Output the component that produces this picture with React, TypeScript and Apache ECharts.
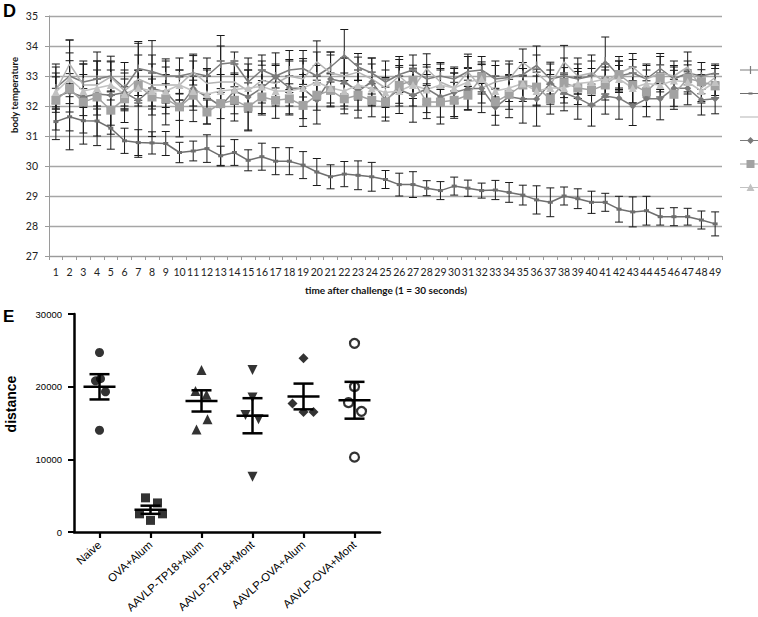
import React, { useEffect, useRef } from "react";
import * as echarts from "echarts";

// ---------- Panel D data ----------
const timeLabels = ["1","2","3","4","5","6","7","8","9","10","11","12","13","14","15","16","17","18","19","20","21","22","23","24","25","26","27","28","29","30","31","32","33","34","35","36","37","38","39","40","41","42","43","44","45","46","47","48","49"];

const s1Mean = [32.6,33.0,32.8,32.9,33.0,32.6,33.25,33.15,33.0,33.0,33.1,33.0,33.4,33.45,32.8,33.2,33.0,33.2,33.25,33.0,33.3,33.7,33.3,33.1,32.8,33.05,33.2,32.9,33.0,32.9,33.15,33.2,32.9,32.95,33.05,33.35,32.9,33.0,32.9,33.0,33.5,33.0,33.1,32.9,33.25,32.9,33.1,33.0,33.1];
const s1Err = [0.7,1.2,0.6,0.6,0.5,0.6,0.9,0.55,0.5,0.6,0.4,0.6,0.95,0.35,0.8,0.5,0.4,0.65,0.6,0.8,0.5,0.85,0.45,0.5,0.7,0.6,0.5,0.4,0.45,0.4,0.5,0.45,0.6,0.55,0.4,0.65,0.5,0.6,0.5,0.5,0.8,0.5,0.45,0.45,0.5,0.45,0.4,0.45,0.3];

const s2Mean = [31.48,31.64,31.51,31.5,31.26,30.84,30.78,30.77,30.75,30.45,30.5,30.58,30.34,30.45,30.19,30.31,30.16,30.16,30.03,29.8,29.64,29.73,29.69,29.64,29.55,29.38,29.38,29.26,29.18,29.33,29.26,29.18,29.2,29.12,29.03,28.87,28.79,29.0,28.91,28.79,28.79,28.56,28.47,28.51,28.31,28.31,28.31,28.2,28.07];
const s2Err = [0.6,1.1,0.78,0.82,0.7,0.42,0.43,0.37,0.4,0.34,0.33,0.46,0.32,0.43,0.35,0.45,0.45,0.45,0.45,0.45,0.4,0.42,0.48,0.48,0.3,0.38,0.43,0.25,0.3,0.3,0.27,0.25,0.32,0.33,0.33,0.47,0.48,0.3,0.33,0.37,0.3,0.43,0.5,0.48,0.28,0.3,0.28,0.3,0.4];

const s3Mean = [32.5,33.4,32.7,32.7,32.97,32.5,32.9,32.7,32.7,32.7,33.13,32.75,32.8,32.8,32.5,32.86,32.75,33.0,32.9,33.47,33.1,33.0,33.13,32.9,32.6,33.0,32.6,33.24,32.8,32.6,33.13,32.6,32.8,32.9,33.45,33.1,32.7,33.47,33.0,33.1,32.8,33.1,33.3,32.9,33.1,33.0,33.3,32.6,32.95];
const s3Err = [0.6,0.8,0.7,0.8,0.5,0.6,0.8,0.7,0.6,0.5,0.6,0.5,0.7,0.6,0.7,0.5,0.6,0.55,0.6,0.7,0.6,0.6,0.5,0.5,0.6,0.55,0.6,0.5,0.6,0.5,0.6,0.5,0.55,0.5,0.45,0.6,0.5,0.55,0.6,0.6,0.5,0.55,0.45,0.5,0.55,0.5,0.5,0.45,0.4];

const s4Mean = [32.3,32.47,32.3,32.4,32.36,32.45,32.19,32.58,32.47,31.97,32.58,32.3,32.0,32.5,32.3,32.6,32.97,32.6,32.58,32.2,32.9,32.8,32.5,32.8,32.2,32.55,32.36,32.58,32.3,32.45,32.58,32.58,31.96,32.31,32.23,32.23,32.76,32.44,32.26,32.03,32.33,32.26,32.0,32.24,32.24,32.59,32.59,32.2,32.24];
const s4Err = [1.1,1.3,1.2,1.4,1.3,1.0,1.9,1.6,1.1,1.0,1.1,0.9,2.0,1.0,1.1,0.9,0.8,0.9,1.0,0.8,0.9,0.8,0.9,0.8,0.7,0.8,0.9,0.8,0.9,0.8,0.7,0.8,0.6,0.7,0.8,0.9,0.7,0.6,0.7,0.7,0.6,0.7,0.65,0.6,0.7,0.6,0.55,0.5,0.5];

const s5Mean = [32.19,32.58,32.13,32.3,31.86,32.24,32.69,32.3,32.24,31.97,32.36,31.8,32.08,32.19,31.97,32.3,32.19,32.24,32.02,32.36,32.52,32.24,32.36,32.19,32.13,32.69,32.86,32.13,32.13,32.19,32.36,32.97,32.14,32.39,32.7,32.63,32.23,32.78,32.6,32.53,32.7,33.05,32.7,32.48,32.92,32.39,32.92,32.81,32.67];
const s5Err = [0.4,0.5,0.45,0.6,0.5,0.4,0.5,0.6,0.5,0.45,0.5,0.4,0.5,0.45,0.8,0.55,0.6,0.5,0.7,0.5,0.55,0.5,0.5,0.55,0.5,0.6,0.5,0.55,0.5,0.6,0.5,0.5,0.45,0.5,0.55,0.6,0.5,0.5,0.55,0.5,0.5,0.45,0.6,0.5,0.45,0.5,0.45,0.4,0.4];

const s6Mean = [32.47,32.91,32.5,32.6,32.7,32.4,32.6,32.5,32.5,32.7,32.5,32.4,32.5,32.55,32.6,32.65,32.5,32.5,32.6,32.8,32.6,32.5,32.7,32.58,32.45,32.5,32.7,32.55,32.7,32.6,32.8,32.9,32.5,32.6,32.75,32.5,32.6,32.6,32.75,32.8,32.9,32.9,32.6,32.75,32.7,32.85,32.8,32.5,32.8];
const s6Err = [0.5,0.6,0.55,0.6,0.5,0.5,0.6,0.6,0.55,0.5,0.5,0.6,0.55,0.5,0.6,0.55,0.5,0.5,0.45,0.55,0.5,0.6,0.5,0.55,0.5,0.5,0.45,0.5,0.55,0.5,0.45,0.5,0.5,0.45,0.5,0.5,0.45,0.5,0.5,0.45,0.5,0.45,0.5,0.45,0.4,0.45,0.4,0.4,0.45];

const tempTicks = [27, 35, 1];

// ---------- Panel E data ----------
const groups = ["Naive", "OVA+Alum", "AAVLP-TP18+Alum", "AAVLP-TP18+Mont", "AAVLP-OVA+Alum", "AAVLP-OVA+Mont"];
const naive = [24700, 20800, 21100, 19300, 14000];
const ovaAlum = [4700, 4000, 2500, 2500, 1600];
const tp18Alum = [22300, 19400, 18900, 15500, 14100];
const tp18Mont = [22300, 18500, 16100, 15500, 7600];
const aavOvaAlum = [23900, 17700, 16500, 16500];
const aavOvaMont = [25950, 20000, 17800, 16600, 10300];
const distanceTicks = [0, 30000, 10000];

// horizontal jitter in px of each dot (visual spread only)
const naiveJit = [0, -4, 1, 6, 0];
const ovaAlumJit = [-5, 7, -11, 12, 0];
const tp18AlumJit = [0, -6, 5, 6, -5];
const tp18MontJit = [0, 0, -7, 6, 0];
const aavOvaAlumJit = [0, -11, 0, 10];
const aavOvaMontJit = [0, 0, -6, 7, 0];

const errRender = (params: any, api: any) => {
  const x = api.value(0);
  const lo = api.coord([x, api.value(1)]);
  const hi = api.coord([x, api.value(2)]);
  const w = 4;
  const style = { stroke: "#1a1a1a", lineWidth: 1 };
  return {
    type: "group",
    children: [
      { type: "line", shape: { x1: lo[0], y1: lo[1], x2: hi[0], y2: hi[1] }, style },
      { type: "line", shape: { x1: lo[0] - w, y1: lo[1], x2: lo[0] + w, y2: lo[1] }, style },
      { type: "line", shape: { x1: hi[0] - w, y1: hi[1], x2: hi[0] + w, y2: hi[1] }, style },
    ],
  };
};

const semRender = (params: any, api: any) => {
  const x = api.value(0);
  const m = api.coord([x, api.value(1)]);
  const lo = api.coord([x, api.value(2)]);
  const hi = api.coord([x, api.value(3)]);
  const style = { stroke: "#000", lineWidth: 2.5 };
  return {
    type: "group",
    children: [
      { type: "line", shape: { x1: m[0] - 16, y1: m[1], x2: m[0] + 16, y2: m[1] }, style },
      { type: "line", shape: { x1: lo[0], y1: lo[1], x2: hi[0], y2: hi[1] }, style },
      { type: "line", shape: { x1: lo[0] - 10, y1: lo[1], x2: lo[0] + 10, y2: lo[1] }, style },
      { type: "line", shape: { x1: hi[0] - 10, y1: hi[1], x2: hi[0] + 10, y2: hi[1] }, style },
    ],
  };
};

const mean = (a: number[]) => a.reduce((s, v) => s + v, 0) / a.length;
const sem = (a: number[]) => {
  const m = mean(a);
  const sd = Math.sqrt(a.reduce((s, v) => s + (v - m) * (v - m), 0) / (a.length - 1));
  return sd / Math.sqrt(a.length);
};

const ICON_BASE = "M0,0H0.01V0.01H0Z M20.99,7.99H21V8H20.99Z M0,3.4H21V4.6H0Z ";

export default function App() {
  const ref = useRef<HTMLDivElement>(null);
  useEffect(() => {
    if (!ref.current) return;
    const chart = echarts.init(ref.current, null, { renderer: "svg" });

    const tempSeries = [
      { name: "Group 1", mean: s1Mean, err: s1Err, color: "#7c7c7c", symbol: "rect", symbolSize: [1.5, 8], icon: "M9.9,0H11.1V8H9.9Z" },
      { name: "Group 2", mean: s2Mean, err: s2Err, color: "#6e6e6e", symbol: "rect", symbolSize: [5, 3], icon: "M8.5,3H12.5V5H8.5Z" },
      { name: "Group 3", mean: s3Mean, err: s3Err, color: "#b4b4b4", symbol: "none", symbolSize: 0, icon: "" },
      { name: "Group 4", mean: s4Mean, err: s4Err, color: "#7a7a7a", symbol: "diamond", symbolSize: 7, icon: "M10.5,0.5L14,4L10.5,7.5L7,4Z" },
      { name: "Group 5", mean: s5Mean, err: s5Err, color: "#a2a2a2", symbol: "rect", symbolSize: 9, icon: "M6.5,0H14.5V8H6.5Z" },
      { name: "Group 6", mean: s6Mean, err: s6Err, color: "#c2c2c2", symbol: "triangle", symbolSize: 8, icon: "M10.5,0L14.5,7.5H6.5Z" },
    ];

    const series: any[] = [];
    tempSeries.forEach((s) => {
      series.push({
        type: "custom",
        xAxisIndex: 0,
        yAxisIndex: 0,
        renderItem: errRender,
        encode: { x: 0, y: [1, 2] },
        data: s.mean.map((m, i) => [i, m - s.err[i], m + s.err[i]]),
        z: 2,
        silent: true,
      });
    });
    tempSeries.forEach((s) => {
      series.push({
        name: s.name,
        type: "line",
        xAxisIndex: 0,
        yAxisIndex: 0,
        data: s.mean,
        symbol: s.symbol,
        symbolSize: s.symbolSize,
        showSymbol: s.symbol !== "none",
        lineStyle: { color: s.color, width: 1.5 },
        itemStyle: { color: s.color },
        z: 3,
      });
    });

    const groupData = [
      { vals: naive, jit: naiveJit, symbol: "circle", size: 9, fill: "#000" },
      { vals: ovaAlum, jit: ovaAlumJit, symbol: "rect", size: 9, fill: "#000" },
      { vals: tp18Alum, jit: tp18AlumJit, symbol: "triangle", size: 10, fill: "#000" },
      { vals: tp18Mont, jit: tp18MontJit, symbol: "path://M0,0 L10,0 L5,9 Z", size: 10, fill: "#000" },
      { vals: aavOvaAlum, jit: aavOvaAlumJit, symbol: "diamond", size: 10, fill: "#000" },
      { vals: aavOvaMont, jit: aavOvaMontJit, symbol: "circle", size: 9, fill: "#fff" },
    ];
    groupData.forEach((g, gi) => {
      series.push({
        type: "scatter",
        xAxisIndex: 1,
        yAxisIndex: 1,
        symbol: g.symbol,
        symbolSize: g.size,
        data: g.vals.map((v, i) => ({ value: [gi, v], symbolOffset: [g.jit[i], 0] })),
        itemStyle: { color: g.fill, borderColor: "#000", borderWidth: g.fill === "#fff" ? 2.2 : 0 },
        z: 3,
      });
    });
    series.push({
      type: "custom",
      xAxisIndex: 1,
      yAxisIndex: 1,
      renderItem: semRender,
      encode: { x: 0, y: [1, 2, 3] },
      data: groupData.map((g, gi) => {
        const m = mean(g.vals);
        const e = sem(g.vals);
        return [gi, m, m - e, m + e];
      }),
      z: 4,
      silent: true,
    });

    const fTop = "Lato";
    const fBot = "Liberation Sans";

    chart.setOption({
      animation: false,
      backgroundColor: "#fff",
      legend: {
        orient: "vertical",
        left: 735,
        top: 61,
        itemWidth: 21,
        itemHeight: 8,
        itemGap: 15.5,
        formatter: () => "",
        data: tempSeries.map((s) => ({ name: s.name, icon: "path://" + ICON_BASE + s.icon })),
        selectedMode: false,
      },
      grid: [
        { left: 49, top: 16, width: 673, height: 240, containLabel: false },
        { left: 74, top: 314, width: 306, height: 218, containLabel: false },
      ],
      xAxis: [
        {
          type: "category",
          gridIndex: 0,
          data: timeLabels,
          boundaryGap: true,
          axisLine: { lineStyle: { color: "#9a9a9a", width: 1 } },
          axisTick: { show: true, length: 4, lineStyle: { color: "#9a9a9a" } },
          axisLabel: { interval: 0, color: "#222", fontFamily: fTop, fontSize: 10.5, margin: 10 },
        },
        {
          type: "category",
          gridIndex: 1,
          data: groups,
          boundaryGap: true,
          axisLine: { lineStyle: { color: "#000", width: 2.5 } },
          axisTick: { show: true, alignWithLabel: true, length: 6, lineStyle: { color: "#000", width: 2.2 } },
          axisLabel: { interval: 0, rotate: 42, color: "#000", fontFamily: fBot, fontSize: 11.3, margin: 11 },
        },
      ],
      yAxis: [
        {
          type: "value",
          gridIndex: 0,
          min: tempTicks[0],
          max: tempTicks[1],
          interval: tempTicks[2],
          axisLine: { show: true, lineStyle: { color: "#9a9a9a" } },
          axisTick: { show: true, length: 4, lineStyle: { color: "#9a9a9a" } },
          splitLine: { show: true, lineStyle: { color: "#a6a6a6", width: 1.3 } },
          axisLabel: { color: "#222", fontFamily: fTop, fontSize: 10.5, margin: 11 },
        },
        {
          type: "value",
          gridIndex: 1,
          min: distanceTicks[0],
          max: distanceTicks[1],
          interval: distanceTicks[2],
          axisLine: { show: true, lineStyle: { color: "#000", width: 2.5 } },
          axisTick: { show: true, length: 6, lineStyle: { color: "#000", width: 2 } },
          splitLine: { show: false },
          axisLabel: { color: "#000", fontFamily: fBot, fontSize: 9.5, margin: 12, formatter: (v: number) => String(v) },
        },
      ],
      graphic: [
        { type: "text", left: 3, top: 2, style: { text: "D", font: `bold 18px ${fBot}`, fill: "#000" } },
        {
          type: "text",
          x: 14,
          y: 95,
          rotation: Math.PI / 2,
          style: { text: "body temperature", font: `bold 9.5px ${fTop}`, fill: "#111", textAlign: "center", textVerticalAlign: "middle" },
        },
        {
          type: "text",
          x: 386,
          y: 290,
          style: { text: "time after challenge (1 = 30 seconds)", font: `bold 10px ${fTop}`, fill: "#111", textAlign: "center", textVerticalAlign: "middle" },
        },
        { type: "text", left: 3, top: 308, style: { text: "E", font: `bold 17px ${fBot}`, fill: "#000" } },
        {
          type: "text",
          x: 11,
          y: 404,
          rotation: Math.PI / 2,
          style: { text: "distance", font: `bold 14px ${fBot}`, fill: "#000", textAlign: "center", textVerticalAlign: "middle" },
        },
      ],
      series,
    });
    return () => chart.dispose();
  }, []);
  return <div ref={ref} style={{ position: "absolute", left: 0, top: 0, width: 758, height: 617 }} />;
}
